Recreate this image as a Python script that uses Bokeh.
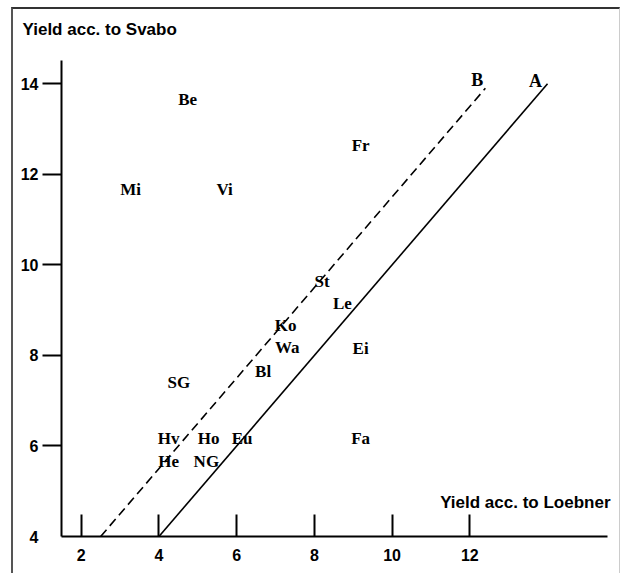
from bokeh.plotting import figure
from bokeh.models import Range1d, FixedTicker, Label, Title, LinearAxis, ColumnDataSource
from bokeh.core.properties import value
from bokeh.embed import file_html
from bokeh.resources import INLINE

# ---- data ----
sites = ["Be", "Fr", "Mi", "Vi", "St", "Le", "Ko", "Wa", "Ei", "Bl", "SG", "Hv", "Ho", "Eu", "Fa", "He", "NG"]
loebner = [4.74, 9.19, 3.27, 5.69, 8.20, 8.72, 7.26, 7.30, 9.19, 6.68, 4.51, 4.25, 5.28, 6.14, 9.19, 4.25, 5.22]
svabo = [13.65, 12.64, 11.67, 11.67, 9.64, 9.14, 8.66, 8.17, 8.15, 7.65, 7.40, 6.16, 6.16, 6.16, 6.16, 5.66, 5.66]

line_a_x = [4.0, 14.0]
line_a_y = [4.0, 14.0]
line_b_x = [2.5, 12.4]
line_b_y = [4.0, 13.9]

line_names = ["A", "B"]
line_label_x = [13.69, 12.19]
line_label_y = [14.07, 14.08]

x_ticks = [2, 4, 6, 8, 10, 12]
y_ticks = [6, 8, 10, 12, 14]
y_label_ticks = [4, 6, 8, 10, 12, 14]
x_title = "Yield acc. to Loebner"
y_title = "Yield acc. to Svabo"

SANS = "Liberation Sans"
SERIF = "Liberation Serif"

p = figure(width=609, height=566, output_backend="svg", toolbar_location=None,
           x_range=Range1d(1.4925, 15.903), y_range=Range1d(4.0, 15.0),
           min_border_left=48, min_border_right=1, min_border_top=29, min_border_bottom=39,
           background_fill_color="white", border_fill_color="white")
p.styles = {"margin-left": "11px", "margin-top": "7px",
            "border-left": "2px solid #555555", "border-top": "2px solid #333333",
            "border-right": "1px solid #cccccc"}
p.outline_line_color = None
p.grid.visible = False

xa = p.xaxis[0]
xa.ticker = FixedTicker(ticks=x_ticks)
xa.bounds = (1.4925, 15.543)
xa.major_tick_in = 22
xa.major_tick_out = 0
xa.minor_tick_line_color = None
xa.axis_line_width = 2
xa.major_tick_line_width = 2
xa.major_label_text_font = SANS
xa.major_label_text_font_style = "bold"
xa.major_label_text_font_size = "16px"
xa.major_label_text_color = "black"
xa.major_label_standoff = 12

# inner y axis: line + ticks only
ya = p.yaxis[0]
ya.ticker = FixedTicker(ticks=y_ticks)
ya.bounds = (4.0, 14.515)
ya.major_tick_in = 0
ya.major_tick_out = 19
ya.minor_tick_line_color = None
ya.axis_line_width = 2
ya.major_tick_line_width = 2
ya.major_label_overrides = {t: "" for t in y_ticks}
ya.major_label_standoff = 0

# outer y axis: labels only
yl = LinearAxis(ticker=FixedTicker(ticks=y_label_ticks))
yl.axis_line_color = None
yl.major_tick_line_color = None
yl.minor_tick_line_color = None
yl.major_tick_in = 0
yl.major_tick_out = 0
yl.major_label_text_font = SANS
yl.major_label_text_font_style = "bold"
yl.major_label_text_font_size = "16px"
yl.major_label_text_color = "black"
yl.major_label_standoff = 4
p.add_layout(yl, "left")

# lines
p.line(line_a_x, line_a_y, line_color="black", line_width=1.6)
p.line(line_b_x, line_b_y, line_color="black", line_width=1.6, line_dash="9 5")

src = ColumnDataSource(dict(x=loebner, y=svabo, t=sites))
p.text(x="x", y="y", text="t", source=src, text_font=value(SERIF), text_font_style="bold",
       text_font_size="17px", text_align="center", text_baseline="middle", text_color="black")

lsrc = ColumnDataSource(dict(x=line_label_x, y=line_label_y, t=line_names))
p.text(x="x", y="y", text="t", source=lsrc, text_font=value(SERIF), text_font_style="bold",
       text_font_size="18px", text_align="center", text_baseline="middle", text_color="black")

p.add_layout(Label(x=15.62, y=4.75, text=x_title, text_font=SANS, text_font_style="bold",
                   text_font_size="17px", text_align="right", text_baseline="middle",
                   text_color="black"))

p.add_layout(Title(text=y_title, align="left", offset=-39, standoff=0,
                   text_font=SANS, text_font_style="bold", text_font_size="17px",
                   text_color="black"), "above")

open("out.html", "w").write(file_html(p, INLINE))
